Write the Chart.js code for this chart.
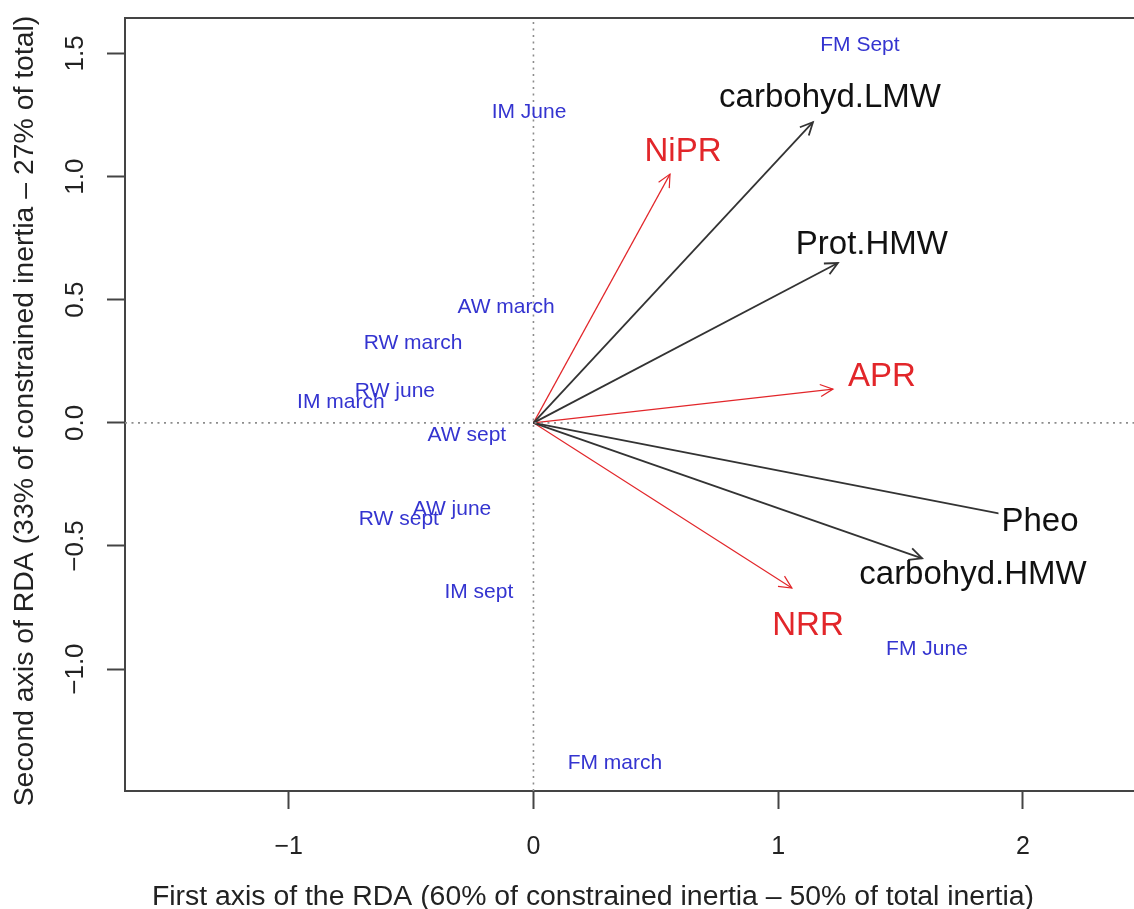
<!DOCTYPE html>
<html>
<head>
<meta charset="utf-8">
<script src="https://cdn.jsdelivr.net/npm/chart.js@4/dist/chart.umd.min.js"></script>
<style>
  html, body { margin: 0; padding: 0; background: #ffffff; }
  #wrap { width: 1134px; height: 909px; }
</style>
</head>
<body>
<div id="wrap"><canvas id="c" width="1134" height="909"></canvas></div>
<script>
// ---- data ----
const xTicks = [-1, 0, 1, 2];
const xTickLabels = ['\u22121', '0', '1', '2'];
const yTicks = [-1, -0.5, 0, 0.5, 1, 1.5];
const yTickLabels = ['\u22121.0', '\u22120.5', '0.0', '0.5', '1.0', '1.5'];
const xRange = [-1.669, 2.454];
const yRange = [-1.495, 1.644];

const xTitle = 'First axis of the RDA (60% of constrained inertia \u2013 50% of total inertia)';
const yTitle = 'Second axis of RDA (33% of constrained inertia \u2013 27% of total)';

const siteNames = ['FM Sept', 'IM June', 'AW march', 'RW march', 'RW june', 'IM march',
                   'AW sept', 'AW june', 'RW sept', 'IM sept', 'FM June', 'FM march'];
const siteX = [1.334, -0.018, -0.112, -0.492, -0.566, -0.787, -0.272, -0.333, -0.550, -0.223, 1.608, 0.333];
const siteY = [1.534, 1.262, 0.469, 0.324, 0.129, 0.084, -0.052, -0.352, -0.393, -0.688, -0.919, -1.382];

const respNames = ['carbohyd.LMW', 'Prot.HMW', 'Pheo', 'carbohyd.HMW'];
const respX = [1.142, 1.244, 1.990, 1.588];
const respY = [1.221, 0.649, -0.385, -0.550];
const respLabelX = [1.212, 1.383, 2.070, 1.796];
const respLabelY = [1.319, 0.722, -0.404, -0.619];

const explNames = ['NiPR', 'APR', 'NRR'];
const explX = [0.558, 1.224, 1.056];
const explY = [1.010, 0.137, -0.671];
const explLabelX = [0.611, 1.424, 1.122];
const explLabelY = [1.100, 0.186, -0.823];

// ---- styles ----
const FONT = "'Liberation Sans', Arial, Helvetica, sans-serif";
const AXIS_COL = '#444444';
const TEXT_COL = '#222222';
const RESP_COL = '#333333';
const EXPL_COL = '#e2262a';
const SITE_COL = '#3434d0';
const ZERO_COL = '#8c8c8c';

const datasets = [];
// dotted zero lines
datasets.push({ data: [{ x: xRange[0], y: 0 }, { x: xRange[1], y: 0 }],
  showLine: true, borderColor: ZERO_COL, borderWidth: 1.6, borderDash: [2, 4.5], pointRadius: 0 });
datasets.push({ data: [{ x: 0, y: yRange[0] }, { x: 0, y: yRange[1] }],
  showLine: true, borderColor: ZERO_COL, borderWidth: 1.6, borderDash: [2, 4.5], pointRadius: 0 });
// response arrows (black)
respNames.forEach((n, i) => datasets.push({
  label: n, data: [{ x: 0, y: 0 }, { x: respX[i], y: respY[i] }],
  showLine: true, borderColor: RESP_COL, borderWidth: 1.8, pointRadius: 0, arrowHead: true,
  tag: { text: n, lx: respLabelX[i], ly: respLabelY[i], color: '#111111' }
}));
// explanatory arrows (red)
explNames.forEach((n, i) => datasets.push({
  label: n, data: [{ x: 0, y: 0 }, { x: explX[i], y: explY[i] }],
  showLine: true, borderColor: EXPL_COL, borderWidth: 1.2, pointRadius: 0, arrowHead: true,
  tag: { text: n, lx: explLabelX[i], ly: explLabelY[i], color: EXPL_COL }
}));

const overlay = {
  id: 'overlay',
  afterDatasetsDraw(chart) {
    const ctx = chart.ctx;
    const xs = chart.scales.x, ys = chart.scales.y;
    const L = 14, A = Math.PI / 7;
    // arrow heads
    chart.data.datasets.forEach((ds, i) => {
      if (!ds.arrowHead) return;
      const pts = chart.getDatasetMeta(i).data;
      const a = pts[0], b = pts[pts.length - 1];
      const ang = Math.atan2(b.y - a.y, b.x - a.x);
      ctx.save();
      ctx.strokeStyle = ds.borderColor;
      ctx.lineWidth = ds.borderWidth;
      ctx.beginPath();
      ctx.moveTo(b.x - L * Math.cos(ang - A), b.y - L * Math.sin(ang - A));
      ctx.lineTo(b.x, b.y);
      ctx.lineTo(b.x - L * Math.cos(ang + A), b.y - L * Math.sin(ang + A));
      ctx.stroke();
      ctx.restore();
    });
    // site labels (blue)
    ctx.save();
    ctx.font = '21px ' + FONT;
    ctx.fillStyle = SITE_COL;
    ctx.textAlign = 'center';
    ctx.textBaseline = 'middle';
    siteNames.forEach((n, i) => {
      ctx.fillText(n, xs.getPixelForValue(siteX[i]), ys.getPixelForValue(siteY[i]));
    });
    ctx.restore();
    // arrow labels with white boxes
    ctx.save();
    ctx.font = '33px ' + FONT;
    ctx.textAlign = 'center';
    ctx.textBaseline = 'middle';
    chart.data.datasets.forEach(ds => {
      if (!ds.tag) return;
      const px = xs.getPixelForValue(ds.tag.lx), py = ys.getPixelForValue(ds.tag.ly);
      const w = ctx.measureText(ds.tag.text).width;
      ctx.fillStyle = '#ffffff';
      ctx.fillRect(px - w / 2 - 3, py - 14, w + 6, 28);
      ctx.fillStyle = ds.tag.color;
      ctx.fillText(ds.tag.text, px, py);
    });
    ctx.restore();
  },
  afterDraw(chart) {
    // axis titles, placed like the R device did (centred on the full plot region)
    const ctx = chart.ctx;
    ctx.save();
    ctx.font = '28.4px ' + FONT;
    ctx.fillStyle = TEXT_COL;
    ctx.textAlign = 'center';
    ctx.textBaseline = 'alphabetic';
    ctx.fillText(xTitle, 593, 905);
    ctx.translate(33, 411);
    ctx.rotate(-Math.PI / 2);
    ctx.fillText(yTitle, 0, 0);
    ctx.restore();
  }
};

new Chart(document.getElementById('c'), {
  type: 'scatter',
  data: { datasets },
  plugins: [overlay],
  options: {
    responsive: false,
    devicePixelRatio: 1,
    animation: false,
    events: [],
    layout: { padding: { top: 18, right: 0, left: 0, bottom: 0 } },
    plugins: { legend: { display: false }, tooltip: { enabled: false }, title: { display: false } },
    scales: {
      x: {
        type: 'linear', position: 'bottom', min: xRange[0], max: xRange[1],
        afterBuildTicks: s => { s.ticks = xTicks.map(v => ({ value: v })); },
        afterFit: s => { s.height = 118; s.paddingLeft = 0; s.paddingRight = 0; },
        ticks: { callback: (v, i) => xTickLabels[i], font: { family: FONT, size: 25 }, color: TEXT_COL,
                 padding: 23, autoSkip: false, maxRotation: 0, minRotation: 0 },
        grid: { drawOnChartArea: false, drawTicks: true, tickLength: 18, tickWidth: 2, color: AXIS_COL, tickColor: AXIS_COL },
        border: { display: true, color: AXIS_COL, width: 2 },
        title: { display: false, text: xTitle }
      },
      xTop: {
        type: 'linear', position: 'top', min: xRange[0], max: xRange[1],
        afterFit: s => { s.height = 0; s.paddingLeft = 0; s.paddingRight = 0; },
        ticks: { display: false },
        grid: { drawOnChartArea: false, drawTicks: false, color: AXIS_COL },
        border: { display: true, color: AXIS_COL, width: 2 }
      },
      y: {
        type: 'linear', position: 'left', min: yRange[0], max: yRange[1],
        afterBuildTicks: s => { s.ticks = yTicks.map(v => ({ value: v })); },
        afterFit: s => { s.width = 125; s.paddingTop = 0; s.paddingBottom = 0; },
        ticks: { callback: (v, i) => yTickLabels[i], font: { family: FONT, size: 26 }, color: TEXT_COL,
                 padding: 6, autoSkip: false, minRotation: 90, maxRotation: 90, crossAlign: 'center' },
        grid: { drawOnChartArea: false, drawTicks: true, tickLength: 18, tickWidth: 2, color: AXIS_COL, tickColor: AXIS_COL },
        border: { display: true, color: AXIS_COL, width: 2 },
        title: { display: false, text: yTitle }
      }
    }
  }
});
</script>
</body>
</html>
